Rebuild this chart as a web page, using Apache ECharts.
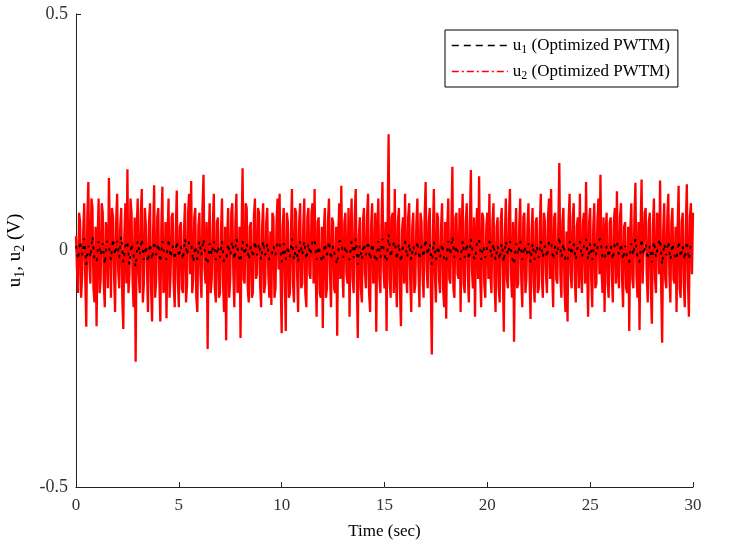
<!DOCTYPE html>
<html>
<head>
<meta charset="utf-8">
<script src="https://cdn.jsdelivr.net/npm/echarts@6/dist/echarts.min.js"></script>
<style>html,body{margin:0;padding:0;background:#fff;}#main{width:752px;height:544px;}</style>
</head>
<body>
<div id="main"></div>
<script>
// sample steps (s)
const u1Step = 0.1;
const u2Step = 0.05;
const xTicks = [0, 5, 10, 15, 20, 25, 30];
const yTicks = [-0.5, 0, 0.5];

const u1 = [
 0.01, -0.02, 0.02, -0.01, 0.025, -0.03, 0.01, -0.015, 0.03, -0.02,
 -0.025, 0.02, -0.01, 0.015, -0.03, 0.02, 0.01, -0.02, 0.025, -0.01,
 0.02, -0.015, 0.03, -0.025, 0.01, 0.02, -0.03, 0.015, -0.01, -0.035,
 0.02, -0.01, 0.025, -0.02, 0.01, -0.025, 0.015, -0.02, 0.02, -0.01,
 0.015, -0.025, 0.02, -0.01, -0.02, 0.025, -0.015, 0.01, -0.02, 0.02,
 -0.015, 0.01, -0.02, 0.025, -0.01, 0.02, 0.015, -0.025, 0.01, -0.02,
 0.02, -0.01, 0.025, -0.015, -0.03, 0.015, -0.01, 0.02, -0.02, 0.01,
 -0.015, 0.02, -0.025, -0.02, 0.015, -0.01, 0.02, -0.02, 0.025, -0.01,
 -0.025, 0.02, -0.01, 0.015, -0.02, 0.01, -0.015, 0.02, -0.01, 0.015,
 -0.02, 0.02, -0.01, 0.015, -0.02, -0.015, 0.01, -0.01, 0.02, 0.015,
 -0.025, 0.015, -0.02, 0.01, -0.015, 0.025, -0.02, 0.01, -0.025, 0.02,
 -0.01, 0.02, -0.02, 0.015, -0.01, 0.02, 0.025, -0.02, 0.01, -0.015,
 -0.025, 0.015, -0.01, 0.02, -0.02, 0.01, -0.015, -0.03, 0.02, 0.02,
 -0.015, 0.01, -0.01, -0.02, 0.02, -0.015, 0.025, -0.03, 0.01, -0.02,
 0.015, -0.01, 0.02, -0.02, 0.015, -0.01, -0.025, 0.02, -0.015, 0.025,
 -0.01, -0.025, 0.035, -0.015, 0.01, 0.02, -0.02, 0.015, -0.025, 0.01,
 0.02, -0.015, 0.015, -0.02, 0.01, -0.01, 0.02, -0.02, 0.01, -0.015,
 0.025, -0.01, 0.015, -0.03, 0.02, -0.02, 0.01, -0.015, 0.015, -0.02,
 -0.025, 0.02, -0.01, 0.03, -0.015, 0.01, -0.01, -0.02, 0.02, -0.015,
 0.015, -0.02, 0.025, -0.01, -0.02, 0.015, 0.025, -0.02, 0.01, -0.015,
 0.01, 0.02, -0.015, 0.015, -0.02, 0.01, -0.02, 0.015, -0.025, 0.02,
 -0.01, 0.02, -0.015, -0.03, 0.015, -0.01, 0.02, -0.02, 0.01, -0.01,
 0.015, -0.025, 0.015, -0.02, 0.01, -0.015, 0.02, -0.015, 0.01, -0.015,
 0.02, 0.02, -0.02, 0.01, -0.01, 0.03, -0.015, 0.015, -0.02, -0.025,
 0.02, -0.01, 0.015, -0.02, 0.01, 0.02, -0.015, 0.01, 0.025, -0.02,
 0.015, -0.02, 0.015, -0.01, 0.02, 0.025, -0.015, -0.02, 0.01, -0.015,
 0.01, -0.02, 0.015, 0.02, -0.01, 0.015, -0.02, 0.01, -0.015, -0.025,
 0.015, -0.01, 0.025, -0.015, -0.025, 0.025, -0.01, 0.015, -0.02, 0.01,
 -0.025, 0.02, -0.015, 0.01, 0.025, -0.03, 0.015, -0.01, 0.02, -0.02,
 0.015, -0.01, -0.02, 0.02, -0.015, 0.01, -0.02, 0.02, -0.02, 0.015,
 0.01
];

const u2 = [
 0.03, -0.04, -0.09, 0.08, 0.06, -0.10, -0.05, 0.04, 0.10, -0.06, -0.161, 0.07, 0.145, -0.03, -0.07, 0.11, 0.09, -0.08, -0.11, 0.05,
 -0.16, 0.02, 0.11, -0.09, -0.06, 0.10, 0.08, -0.07, -0.12, 0.06, 0.04, -0.08, 0.153, 0.03, -0.10, 0.09, 0.07, -0.05, -0.13, 0.06,
 0.12, -0.04, -0.08, 0.05, 0.09, -0.10, -0.166, 0.03, 0.10, -0.07, 0.172, -0.09, -0.05, 0.11, 0.08, -0.06, -0.12, 0.07, -0.235, 0.04,
 0.11, -0.05, -0.09, 0.08, 0.13, -0.11, -0.07, 0.09, 0.05, -0.04, -0.13, 0.06, 0.10, -0.08, -0.15, 0.04, 0.138, -0.10, -0.06, 0.07,
 0.09, -0.06, -0.15, 0.05, 0.135, -0.09, -0.08, 0.06, -0.143, 0.03, 0.11, -0.10, -0.05, 0.07, 0.08, -0.07, -0.12, 0.04, 0.127, -0.06,
 -0.12, 0.05, 0.06, -0.08, -0.09, 0.04, 0.10, -0.11, -0.07, 0.08, 0.12, -0.05, 0.147, -0.09, -0.06, 0.07, 0.09, -0.10, -0.13, 0.05,
 0.08, -0.05, -0.10, 0.09, 0.16, -0.04, -0.07, 0.06, -0.208, 0.02, 0.10, -0.09, -0.06, 0.05, 0.12, -0.08, -0.11, 0.06, 0.07, -0.10,
 -0.09, 0.04, 0.11, -0.07, -0.13, 0.05, -0.19, 0.03, 0.09, -0.10, -0.06, 0.08, 0.10, -0.05, -0.12, 0.06, 0.12, -0.09, -0.08, 0.05,
 -0.185, 0.04, 0.174, -0.06, -0.07, 0.10, 0.09, -0.08, -0.11, 0.05, 0.06, -0.10, -0.09, 0.07, 0.11, -0.06, -0.05, 0.09, 0.08, -0.07,
 -0.12, 0.05, 0.10, -0.09, -0.07, 0.06, 0.09, -0.05, -0.10, 0.04, -0.115, 0.08, 0.07, -0.10, -0.08, 0.06, 0.11, -0.04, 0.12, -0.06,
 -0.175, 0.05, 0.09, -0.06, -0.17, 0.08, 0.06, -0.10, -0.09, 0.04, 0.13, -0.07, -0.11, 0.09, 0.08, -0.05, -0.13, 0.06, 0.10, -0.08,
 -0.07, 0.05, 0.11, -0.09, -0.12, 0.07, 0.09, -0.05, -0.06, 0.08, 0.10, -0.07, 0.13, -0.04, -0.14, 0.06, 0.07, -0.09, -0.10, 0.05,
 -0.164, 0.04, 0.09, -0.10, -0.08, 0.06, 0.11, -0.05, -0.12, 0.07, 0.06, -0.08, -0.09, 0.05, -0.18, 0.03, 0.10, -0.06, 0.137, -0.04,
 -0.10, 0.06, 0.08, -0.05, -0.07, 0.09, -0.14, 0.04, 0.11, -0.06, -0.09, 0.07, 0.13, -0.05, -0.185, 0.03, 0.07, -0.08, -0.11, 0.06,
 0.09, -0.05, -0.08, 0.07, 0.12, -0.09, -0.13, 0.05, 0.10, -0.07, -0.06, 0.08, -0.172, 0.04, 0.11, -0.06, -0.09, 0.05, 0.145, -0.04,
 -0.08, 0.06, -0.17, 0.05, 0.246, -0.06, -0.10, 0.07, 0.08, -0.09, 0.13, -0.05, -0.12, 0.06, 0.09, -0.08, -0.16, 0.04, 0.07, -0.07,
 0.12, -0.05, -0.09, 0.07, 0.10, -0.06, -0.13, 0.05, 0.08, -0.09, -0.07, 0.06, 0.11, -0.04, -0.12, 0.08, 0.06, -0.05, -0.10, 0.07,
 0.145, -0.04, -0.08, 0.06, 0.09, -0.07, -0.22, 0.03, 0.13, -0.05, -0.11, 0.08, 0.07, -0.06, -0.09, 0.05, 0.10, -0.08, -0.12, 0.06,
 -0.144, 0.04, 0.11, -0.06, -0.07, 0.05, 0.177, -0.08, -0.10, 0.07, 0.08, -0.05, -0.06, 0.09, -0.13, 0.04, 0.12, -0.07, -0.09, 0.06,
 0.10, -0.05, -0.11, 0.06, 0.17, -0.04, -0.08, 0.07, -0.14, 0.03, 0.09, -0.06, 0.157, -0.05, -0.12, 0.08, 0.07, -0.07, -0.10, 0.05,
 0.08, -0.06, 0.12, -0.05, -0.09, 0.06, 0.10, -0.07, -0.13, 0.05, 0.07, -0.08, -0.11, 0.06, 0.09, -0.04, -0.172, 0.03, 0.11, -0.06,
 -0.08, 0.07, 0.13, -0.05, -0.10, 0.06, -0.193, 0.02, 0.09, -0.08, -0.07, 0.05, 0.11, -0.06, -0.12, 0.07, 0.08, -0.09, -0.06, 0.05,
 0.10, -0.05, -0.145, 0.04, 0.09, -0.07, -0.11, 0.06, 0.07, -0.09, -0.08, 0.05, 0.12, -0.06, -0.10, 0.08, 0.06, -0.05, -0.09, 0.07,
 0.11, -0.06, 0.13, -0.04, -0.12, 0.07, 0.08, -0.06, -0.07, 0.05, 0.185, -0.05, -0.10, 0.06, 0.09, -0.08, -0.13, 0.04, -0.15, 0.06,
 0.12, -0.05, -0.08, 0.07, 0.10, -0.06, -0.11, 0.05, 0.07, -0.08, 0.12, -0.04, -0.09, 0.06, 0.08, -0.07, 0.145, -0.03, -0.14, 0.06,
 0.09, -0.06, -0.12, 0.05, 0.10, -0.08, -0.07, 0.06, 0.11, -0.05, 0.16, -0.04, -0.09, 0.07, -0.13, 0.04, 0.08, -0.07, -0.10, 0.06,
 0.07, -0.05, -0.11, 0.06, 0.09, -0.07, 0.125, -0.04, -0.08, 0.07, 0.10, -0.06, -0.12, 0.05, 0.06, -0.08, -0.09, 0.05, -0.17, 0.04,
 0.10, -0.06, -0.08, 0.07, 0.143, -0.05, -0.10, 0.06, -0.168, 0.04, 0.15, -0.07, -0.07, 0.08, 0.09, -0.05, -0.11, 0.06, 0.08, -0.08,
 -0.155, 0.05, 0.11, -0.06, -0.09, 0.08, 0.07, -0.05, 0.148, -0.07, -0.195, 0.04, 0.10, -0.06, -0.08, 0.07, 0.12, -0.05, -0.11, 0.06,
 0.09, -0.06, -0.07, 0.05, -0.13, 0.04, 0.137, -0.08, -0.10, 0.06, 0.08, -0.07, -0.12, 0.05, 0.14, -0.06, -0.14, 0.07, 0.10, -0.05,
 0.08
];

const seriesNames = ['u1 (Optimized PWTM)', 'u2 (Optimized PWTM)'];

const toPairs = (arr, step) => arr.map((v, i) => [+(i * step).toFixed(3), v]);

const FONT = 'Liberation Serif';
const chart = echarts.init(document.getElementById('main'), null, {renderer: 'canvas'});

const rich = {
  a: {fontFamily: FONT, fontSize: 17, color: '#000', lineHeight: 22},
  s: {fontFamily: FONT, fontSize: 12, color: '#000', lineHeight: 22, padding: [9, 0, 0, 0]}
};

chart.setOption({
  animation: false,
  backgroundColor: '#fff',
  grid: {left: 76, right: 59, top: 14, bottom: 57, containLabel: false, outerBoundsMode: 'none'},
  legend: {
    orient: 'vertical',
    left: 445, top: 30,
    backgroundColor: '#fff',
    borderColor: '#000', borderWidth: 1, borderRadius: 0,
    padding: [5, 8, 5, 6],
    itemGap: 5,
    itemWidth: 56, itemHeight: 14,
    itemStyle: {opacity: 0},
    data: [
      {name: seriesNames[0], lineStyle: {color: '#000', width: 1.6, type: [7, 5]}},
      {name: seriesNames[1], lineStyle: {color: '#ff0000', width: 1.5, type: [7, 3, 2, 3]}}
    ],
    formatter: name => name === seriesNames[0]
      ? '{a|u}{s|1}{a| (Optimized PWTM)}'
      : '{a|u}{s|2}{a| (Optimized PWTM)}',
    textStyle: {fontFamily: FONT, fontSize: 17, color: '#000', rich: rich}
  },
  xAxis: {
    type: 'value', min: xTicks[0], max: xTicks[xTicks.length - 1], interval: 5,
    name: 'Time (sec)', nameLocation: 'middle', nameGap: 36,
    nameTextStyle: {fontFamily: FONT, fontSize: 17, color: '#000'},
    axisLine: {show: true, onZero: false, lineStyle: {color: '#222', width: 1}},
    axisTick: {show: true, inside: true, length: 5, lineStyle: {color: '#222'}},
    axisLabel: {fontFamily: FONT, fontSize: 17, color: '#333', margin: 10},
    splitLine: {show: false}
  },
  yAxis: {
    type: 'value', min: yTicks[0], max: yTicks[yTicks.length - 1], interval: 0.5,
    name: '{a|u}{s|1}{a|, u}{s|2}{a| (V)}', nameLocation: 'middle', nameGap: 48,
    nameRotate: 90,
    nameTextStyle: {fontFamily: FONT, fontSize: 19, color: '#000', rich: {
      a: {fontFamily: FONT, fontSize: 19, color: '#000', lineHeight: 26},
      s: {fontFamily: FONT, fontSize: 14, color: '#000', lineHeight: 26, padding: [10, 0, 0, 0]}
    }},
    axisLine: {show: true, lineStyle: {color: '#222', width: 1}},
    axisTick: {show: true, inside: true, length: 5, lineStyle: {color: '#222'}},
    axisLabel: {fontFamily: FONT, fontSize: 18, color: '#333', margin: 8,
      formatter: v => v === 0 ? '0' : String(v)},
    splitLine: {show: false}
  },
  series: [
    {
      name: seriesNames[1], type: 'line', data: toPairs(u2, u2Step),
      showSymbol: false, symbol: 'none', z: 2,
      lineStyle: {color: '#ff0000', width: 2.3, type: 'solid', join: 'miter', miterLimit: 2},
      itemStyle: {color: '#ff0000'}
    },
    {
      name: seriesNames[0], type: 'line', data: toPairs(u1, u1Step),
      showSymbol: false, symbol: 'none', z: 3,
      lineStyle: {color: '#000', width: 1.8, type: [3, 6]},
      itemStyle: {color: '#000'}
    }
  ]
});
</script>
</body>
</html>
